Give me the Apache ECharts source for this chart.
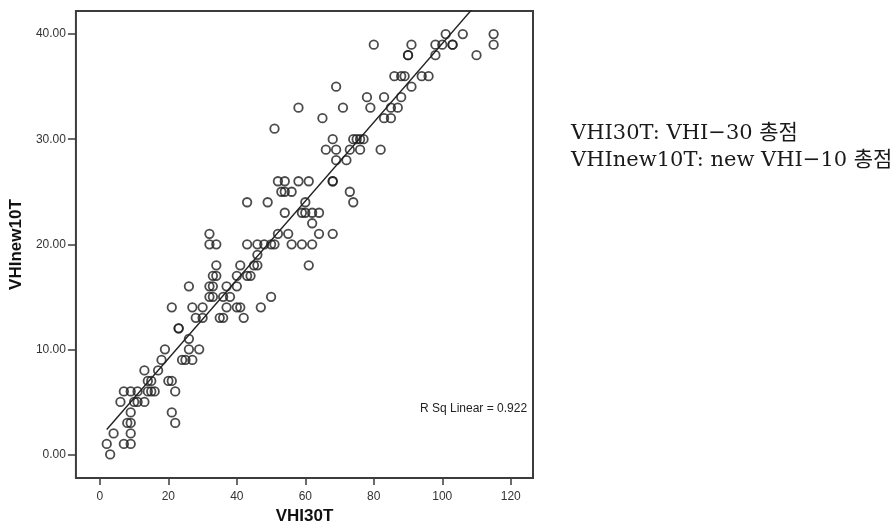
<!DOCTYPE html>
<html>
<head>
<meta charset="utf-8">
<script src="https://cdn.jsdelivr.net/npm/echarts@6/dist/echarts.min.js"></script>
<style>html,body{margin:0;padding:0;background:#fff;}#c{width:896px;height:530px;}</style>
</head>
<body>
<div id="c"></div>
<script>
// Data (x = VHI30T, y = VHInew10T)
const vhi30 = [
  3,
  2, 7, 9,
  4, 9,
  8, 9, 22,
  9, 21,
  6, 10, 11, 13,
  7, 9, 11, 14, 15, 16, 22,
  14, 15, 20, 21,
  13, 17,
  18, 24, 25, 27,
  19, 26, 29,
  26,
  23, 23,
  28, 30, 35, 36, 42,
  21, 27, 30, 37, 40, 41, 47,
  32, 33, 36, 38, 50,
  26, 32, 33, 37, 40,
  33, 34, 40, 43, 44,
  34, 41, 45, 46, 61,
  46,
  32, 34, 43, 46, 48, 50, 51, 56, 59, 62,
  32, 52, 55, 64, 68,
  62,
  54, 59, 60, 62, 64,
  43, 49, 60, 74,
  53, 54, 56, 73,
  52, 54, 58, 61, 68, 68,
  69, 72,
  66, 69, 73, 76, 82,
  68, 74, 75, 76, 77,
  51,
  65, 83, 85,
  58, 71, 79, 85, 87,
  78, 83, 88,
  69, 91,
  86, 88, 89, 94, 96,
  90, 90, 98, 110,
  80, 91, 98, 100, 103, 103, 115,
  101, 106, 115
];
const vhiNew10 = [
  0,
  1, 1, 1,
  2, 2,
  3, 3, 3,
  4, 4,
  5, 5, 5, 5,
  6, 6, 6, 6, 6, 6, 6,
  7, 7, 7, 7,
  8, 8,
  9, 9, 9, 9,
  10, 10, 10,
  11,
  12, 12,
  13, 13, 13, 13, 13,
  14, 14, 14, 14, 14, 14, 14,
  15, 15, 15, 15, 15,
  16, 16, 16, 16, 16,
  17, 17, 17, 17, 17,
  18, 18, 18, 18, 18,
  19,
  20, 20, 20, 20, 20, 20, 20, 20, 20, 20,
  21, 21, 21, 21, 21,
  22,
  23, 23, 23, 23, 23,
  24, 24, 24, 24,
  25, 25, 25, 25,
  26, 26, 26, 26, 26, 26,
  28, 28,
  29, 29, 29, 29, 29,
  30, 30, 30, 30, 30,
  31,
  32, 32, 32,
  33, 33, 33, 33, 33,
  34, 34, 34,
  35, 35,
  36, 36, 36, 36, 36,
  38, 38, 38, 38,
  39, 39, 39, 39, 39, 39, 39,
  40, 40, 40
];
const xTicks = [0, 20, 40, 60, 80, 100, 120];
const yTicks = [0, 10, 20, 30, 40];
const rSqLabel = 'R Sq Linear = 0.922';
const noteLines = ['VHI30T: VHI\u221230 총점', 'VHInew10T: new VHI\u221210 총점'];

const points = vhi30.map((x, i) => [x, vhiNew10[i]]);
// least-squares fit from the points
const n = points.length;
let sx = 0, sy = 0, sxx = 0, sxy = 0;
points.forEach(([x, y]) => { sx += x; sy += y; sxx += x * x; sxy += x * y; });
const slope = (n * sxy - sx * sy) / (n * sxx - sx * sx);
const icpt = (sy - slope * sx) / n;
const xMinD = Math.min(...vhi30), xMaxD = Math.max(...vhi30);
const fitLine = [[xMinD, icpt + slope * xMinD], [xMaxD, icpt + slope * xMaxD]];

const chart = echarts.init(document.getElementById('c'), null, {renderer: 'canvas'});
const axisFont = {fontFamily: 'Liberation Sans, Arial, sans-serif', fontSize: 12, color: '#333'};
chart.setOption({
  animation: false,
  backgroundColor: '#fff',
  grid: {left: 71, top: 11, right: 363, bottom: 46, show: true, borderColor: '#3c3c3c', borderWidth: 2, containLabel: false},
  xAxis: {
    type: 'value', min: -7, max: 126.5,
    name: 'VHI30T', nameLocation: 'middle', nameGap: 28,
    nameTextStyle: {fontFamily: 'Liberation Sans, Arial, sans-serif', fontSize: 17, fontWeight: 'bold', color: '#111'},
    axisLine: {show: false, onZero: false},
    axisTick: {show: true, inside: false, length: 7, lineStyle: {color: '#3c3c3c', width: 1.5}, customValues: xTicks},
    axisLabel: Object.assign({margin: 13, customValues: xTicks, formatter: v => String(v)}, axisFont),
    splitLine: {show: false}
  },
  yAxis: {
    type: 'value', min: -2.25, max: 42.2,
    name: 'VHInew10T', nameLocation: 'middle', nameGap: 43, nameRotate: 90,
    nameTextStyle: {fontFamily: 'Liberation Sans, Arial, sans-serif', fontSize: 17, fontWeight: 'bold', color: '#111'},
    axisLine: {show: false, onZero: false},
    axisTick: {show: true, inside: false, length: 8, lineStyle: {color: '#3c3c3c', width: 1.5}, customValues: yTicks},
    axisLabel: Object.assign({margin: 10, customValues: yTicks, formatter: v => v.toFixed(2)}, axisFont),
    splitLine: {show: false}
  },
  series: [
    {
      type: 'scatter', data: points, symbol: 'circle', symbolSize: 8.5,
      itemStyle: {color: 'rgba(0,0,0,0)', borderColor: '#1e1e1e', borderWidth: 1.8},
      emphasis: {disabled: true}, z: 3
    },
    {
      type: 'line', data: fitLine, showSymbol: false, symbol: 'none', clip: true,
      lineStyle: {color: '#222', width: 1.4}, z: 2, emphasis: {disabled: true}
    }
  ],
  graphic: [
    {type: 'text', left: 420, top: 403, style: {text: rSqLabel, font: '12px "Liberation Sans", Arial, sans-serif', fill: '#222'}},
    {type: 'text', left: 571, top: 123, style: {text: noteLines[0], font: '21px "DejaVu Serif", "Noto Sans CJK KR", serif', fill: '#1a1a1a'}},
    {type: 'text', left: 571, top: 150, style: {text: noteLines[1], font: '21px "DejaVu Serif", "Noto Sans CJK KR", serif', fill: '#1a1a1a'}}
  ]
});
</script>
</body>
</html>
